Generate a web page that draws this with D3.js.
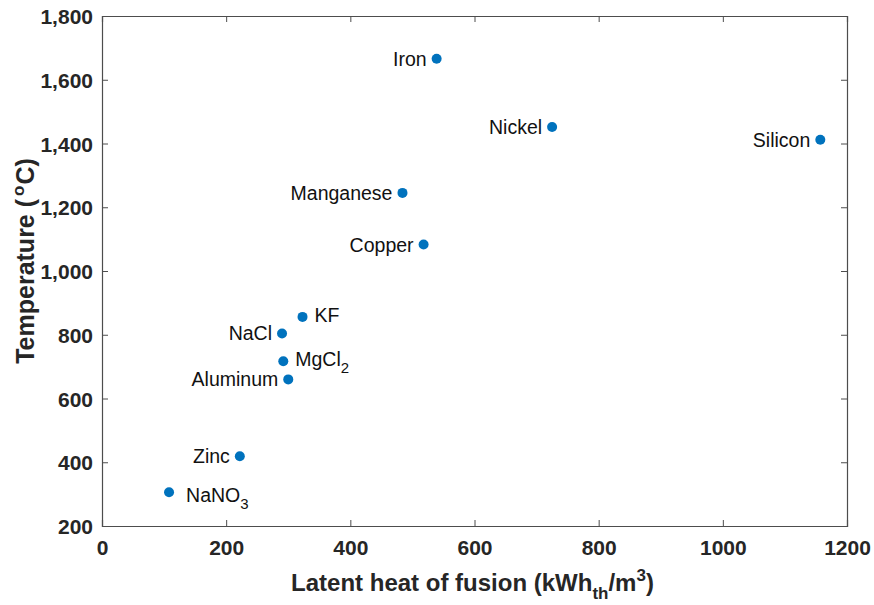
<!DOCTYPE html>
<html>
<head>
<meta charset="utf-8">
<script src="https://cdn.jsdelivr.net/npm/d3@7"></script>
<style>
  html, body { margin: 0; padding: 0; background: #fff; }
  text { font-family: "Liberation Sans", Arial, Helvetica, sans-serif; }
</style>
</head>
<body>
<svg id="chart" width="874" height="605"></svg>
<script>
// ---- data ----
const materials = ["Iron", "Nickel", "Silicon", "Manganese", "Copper", "KF", "NaCl", "MgCl2", "Aluminum", "Zinc", "NaNO3"];
const latentHeat = [539, 725, 1157, 484, 518, 323, 290, 292, 300, 222, 108];   // kWh_th/m^3
const temperature = [1666, 1452, 1412, 1245, 1083, 856, 804, 717, 660, 419, 306]; // °C
const labelSide = ["left", "left", "left", "left", "left", "right", "left", "right", "left", "left", "right"];
const xTicks = [0, 200, 400, 600, 800, 1000, 1200];
const yTicks = [200, 400, 600, 800, 1000, 1200, 1400, 1600, 1800];

const svg = d3.select("#chart");
const margin = { left: 102, right: 874 - 847, top: 16, bottom: 605 - 526 };
const W = 874, H = 605;
const x = d3.scaleLinear().domain([0, 1200]).range([margin.left, W - margin.right]);
const y = d3.scaleLinear().domain([200, 1800]).range([H - margin.bottom, margin.top]);

const axisColor = "#4d4d4d";
const textColor = "#262626";

// axes (ticks inward)
const gx = svg.append("g").attr("transform", `translate(0,${y(200)})`)
  .call(d3.axisBottom(x).tickValues(xTicks).tickSize(-6).tickPadding(14).tickFormat(d3.format("d")));
const gy = svg.append("g").attr("transform", `translate(${x(0)},0)`)
  .call(d3.axisLeft(y).tickValues(yTicks).tickSize(-6).tickPadding(9).tickFormat(d3.format(",")));
const gt = svg.append("g").attr("transform", `translate(0,${y(1800)})`)
  .call(d3.axisTop(x).tickValues(xTicks).tickSize(-6).tickFormat(""));
const gr = svg.append("g").attr("transform", `translate(${x(1200)},0)`)
  .call(d3.axisRight(y).tickValues(yTicks).tickSize(-6).tickFormat(""));

[gx, gy, gt, gr].forEach(g => {
  g.selectAll(".domain").attr("stroke", axisColor).attr("stroke-width", 1.2);
  g.selectAll(".tick line").attr("stroke", axisColor).attr("stroke-width", 1);
  g.selectAll(".tick text")
    .attr("fill", textColor)
    .style("font-family", "'Liberation Sans', Arial, sans-serif")
    .style("font-weight", "bold")
    .style("font-size", "21px");
});
gx.selectAll(".tick text").attr("dy", "0.71em");
gy.selectAll(".tick text").attr("dy", "0.36em");

// axis titles
const xt = svg.append("text")
  .attr("x", (x(0) + x(1200)) / 2 - 2)
  .attr("y", 591)
  .attr("text-anchor", "middle")
  .attr("fill", textColor)
  .style("font-weight", "bold")
  .style("font-size", "24px");
xt.append("tspan").text("Latent heat of fusion (kWh");
xt.append("tspan").text("th").style("font-size", "17px").attr("dy", 8);
xt.append("tspan").text("/m").attr("dy", -8);
xt.append("tspan").text("3").style("font-size", "17px").attr("dy", -10);
xt.append("tspan").text(")").attr("dy", 10);

const yt = svg.append("text")
  .attr("transform", `translate(34,${(y(200) + y(1800)) / 2 - 10}) rotate(-90)`)
  .attr("text-anchor", "middle")
  .attr("fill", textColor)
  .style("font-weight", "bold")
  .style("font-size", "25px");
yt.append("tspan").text("Temperature (");
yt.append("tspan").text("o").style("font-size", "17px").attr("dy", -10).attr("dx", 3);
yt.append("tspan").text("C)").attr("dy", 10).attr("dx", 1);

// points
const data = materials.map((m, i) => ({ name: m, lx: latentHeat[i], t: temperature[i], side: labelSide[i] }));

svg.append("g").selectAll("circle")
  .data(data).join("circle")
  .attr("cx", d => x(d.lx))
  .attr("cy", d => y(d.t))
  .attr("r", 5)
  .attr("fill", "#0072BD");

// labels
const extraOffset = { "NaNO3": [5, 5] };
const lab = svg.append("g").selectAll("text")
  .data(data).join("text")
  .attr("x", d => x(d.lx) + (d.side === "left" ? -10 : 12) + (extraOffset[d.name] ? extraOffset[d.name][0] : 0))
  .attr("y", d => y(d.t) + (d.side === "left" ? 7 : 5) + (extraOffset[d.name] ? extraOffset[d.name][1] : 0))
  .attr("text-anchor", d => d.side === "left" ? "end" : "start")
  .attr("fill", "#111")
  .style("font-size", "19.5px");

lab.each(function(d) {
  const t = d3.select(this);
  const m = d.name.match(/^(.*?)(\d+)$/);
  if (m) {
    t.append("tspan").text(m[1]);
    t.append("tspan").text(m[2]).style("font-size", "15px").attr("dy", 7);
  } else {
    t.text(d.name);
  }
});
</script>
</body>
</html>
